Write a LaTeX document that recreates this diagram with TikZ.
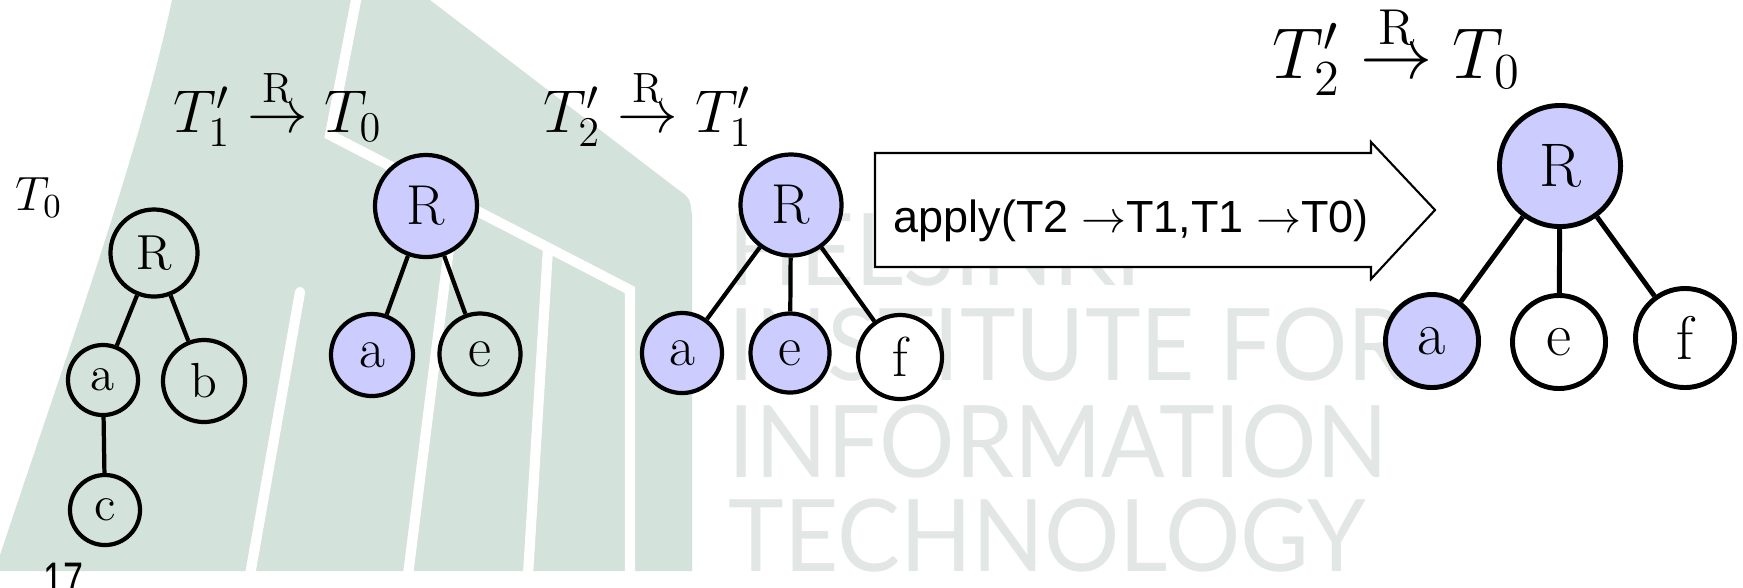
\RequirePackage{fix-cm}
\documentclass[tikz,border=0pt]{standalone}
\usepackage{fontspec}
\newfontfamily\slidesans{Liberation Sans}
\newfontfamily\logofont{Lato}
\usetikzlibrary{positioning}
\definecolor{NodeBlue}{RGB}{204,204,255}
\definecolor{LogoGreen}{RGB}{211,226,219}
\definecolor{LogoGrey}{RGB}{226,230,228}

\begin{document}
\begin{tikzpicture}[x=0.01cm,y=-0.01cm,
        nd/.style={circle,draw,line width=1.2pt,inner sep=0pt},
        hl/.style={fill=NodeBlue},
        arr/.style={line width=1.2pt},
        lbl/.style={anchor=base west,inner sep=0pt,font=\fontsize{17.2}{18}\selectfont},
        stripe/.style={draw=white,line width=2.9pt},
        logo/.style={anchor=base west,inner sep=0pt,text=LogoGrey,
                     font=\logofont\fontsize{28.5}{28.5}\selectfont}
      ]
        \useasboundingbox (0,0) rectangle (1743,587);
        \clip (0,0) rectangle (1743,587);

        % logo in the slide background
        \fill[LogoGreen] (430,0) -- (676,188) .. controls (690,198) .. (692,215)
              -- (692,571) -- (0,571) -- (0,555)
              .. controls (75,330) and (140,150) .. (172,0) -- cycle;
        \draw[stripe] (357,-5) -- (330,135) -- (630,290) -- (630,575);
        \draw[stripe] (548,248) -- (528,575);
        \draw[stripe,line cap=round] (300,292) -- (250,575);
        \draw[stripe] (455,200) -- (408,575);
        \node[logo] (wm1) at (728,285) {\scalebox{0.94}[1]{HELSINKI}};
        \node[logo] (wm2) at (728,380) {\scalebox{0.94}[1]{INSTITUTE FOR}};
        \node[logo] (wm3) at (728,477) {\scalebox{0.94}[1]{INFORMATION}};
        \node[logo] (wm4) at (728,571) {\scalebox{0.94}[1]{TECHNOLOGY}};

        % big arrow
        \draw[line width=0.6pt,fill=white] (875,153) -- (1371,153) -- (1371,142)
              -- (1435,210) -- (1371,279) -- (1371,267) -- (875,267) -- cycle;
        \node[anchor=base west,inner sep=0pt,font=\slidesans\fontsize{12.8}{13}\selectfont]
              (apply) at (893,232) {apply(T2 $\rightarrow$T1,T1 $\rightarrow$T0)};

        % T0
        \begin{scope}[font=\fontsize{14}{14}\selectfont]
        \node[nd,minimum size=0.87cm] (r1) at (154,253) {R};
        \node[nd,minimum size=0.70cm] (a1) at (103,380) {a};
        \node[nd,minimum size=0.82cm] (b1) at (204,381) {b};
        \node[nd,minimum size=0.70cm] (c1) at (105,510) {c};
        \end{scope}
        \draw[arr] (r1)--(a1); \draw[arr] (r1)--(b1);
        \draw[arr] (a1)--(c1);

        % T1'
        \begin{scope}[font=\fontsize{16}{16}\selectfont]
        \node[nd,hl,minimum size=1.02cm] (r2) at (426,206) {R};
        \node[nd,hl,minimum size=0.82cm] (a2) at (372,355) {a};
        \node[nd,minimum size=0.81cm] (e2) at (480,354) {e};
        \end{scope}
        \draw[arr] (r2)--(a2); \draw[arr] (r2)--(e2);

        % T2'
        \begin{scope}[font=\fontsize{16}{16}\selectfont]
        \node[nd,hl,minimum size=1.01cm] (r3) at (791,205) {R};
        \node[nd,hl,minimum size=0.80cm] (a3) at (682,353) {a};
        \node[nd,hl,minimum size=0.79cm] (e3) at (790,353) {e};
        \node[nd,fill=white,minimum size=0.84cm] (f3) at (900,357) {f};
        \end{scope}
        \draw[arr] (r3)--(a3); \draw[arr] (r3)--(e3);
        \draw[arr] (r3)--(f3);

        % result
        \begin{scope}[font=\fontsize{17.5}{18}\selectfont,
                      nd/.append style={line width=1.4pt},arr/.append style={line width=1.4pt}]
        \node[nd,hl,minimum size=1.21cm] (r4) at (1560,166) {R};
        \node[nd,hl,minimum size=0.93cm] (a4) at (1432,341) {a};
        \node[nd,fill=white,minimum size=0.93cm] (e4) at (1559,342) {e};
        \node[nd,fill=white,minimum size=0.99cm] (f4) at (1685,338) {f};
        \draw[arr] (r4)--(a4); \draw[arr] (r4)--(e4);
        \draw[arr] (r4)--(f4);
        \end{scope}

        % labels
        \node[lbl,font=\fontsize{13.7}{14}\selectfont] (l0) at (15,210) {$T_0$};
        \node[lbl] (l1) at (173,132) {$T_1' \stackrel{\mathrm{R}}{\rightarrow} T_0$};
        \node[lbl] (l2) at (543,132) {$T_2' \stackrel{\mathrm{R}}{\rightarrow} T_1'$};
        \node[lbl,font=\fontsize{20.5}{21}\selectfont] (l3) at (1272,78)
              {$T_2' \stackrel{\mathrm{R}}{\rightarrow} T_0$};

        \node[anchor=base west,inner sep=0pt,font=\slidesans\fontsize{14.2}{15}\selectfont]
              (pnum) at (43,597) {\scalebox{0.72}[1]{17}};
      \end{tikzpicture}
\end{document}
